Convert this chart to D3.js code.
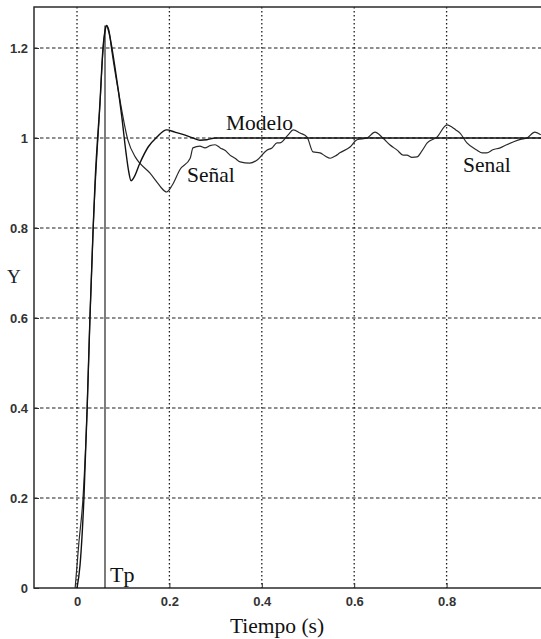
<!DOCTYPE html>
<html lang="es">
<meta charset="utf-8">
<title>Respuesta al escalon</title>
<style>
    body { margin: 0; background: white; }
</style>

<svg id="canvas"></svg>

<script src="https://cdn.jsdelivr.net/npm/d3@7"></script>

<body>
    <script>

        ////////////////////// Data ///////////////////////
        var modelo_t = [0, 0.0065, 0.015, 0.022, 0.028, 0.035, 0.039, 0.050, 0.056, 0.061, 0.064,
                        0.069, 0.082, 0.097, 0.106, 0.112, 0.117, 0.123, 0.136, 0.154, 0.173, 0.194,
                        0.212, 0.229, 0.251, 0.266, 0.281, 0.299, 1.01];
        var modelo_y = [0, 0.05, 0.2, 0.4, 0.6, 0.8, 0.9, 1.084, 1.196, 1.24, 1.25,
                        1.235, 1.158, 1.047, 0.968, 0.925, 0.905, 0.912, 0.944, 0.98, 1.002, 1.018,
                        1.013, 1.008, 1.0, 0.995, 0.996, 1.0, 1.0];

        var senal_t  = [-0.004, 0.004, 0.013, 0.022, 0.028, 0.035, 0.050, 0.056, 0.064, 0.069,
                        0.075, 0.093, 0.110, 0.126, 0.136, 0.158, 0.173, 0.182, 0.194, 0.206,
                        0.223, 0.245, 0.251, 0.266, 0.277, 0.288, 0.299, 0.310, 0.321, 0.331,
                        0.342, 0.353, 0.374, 0.390, 0.411, 0.422, 0.433, 0.439, 0.457, 0.468,
                        0.483, 0.498, 0.511, 0.526, 0.537, 0.548, 0.559, 0.569, 0.591, 0.606,
                        0.628, 0.645, 0.662, 0.677, 0.693, 0.706, 0.714, 0.725, 0.736, 0.747,
                        0.758, 0.779, 0.801, 0.812, 0.820, 0.829, 0.844, 0.866, 0.877, 0.887,
                        0.900, 0.916, 0.930, 0.944, 0.960, 0.974, 0.991, 1.004];
        var senal_y  = [0, 0.1, 0.2, 0.4, 0.6, 0.8, 1.08, 1.19, 1.25, 1.24,
                        1.196, 1.084, 0.996, 0.958, 0.944, 0.922, 0.902, 0.89, 0.88, 0.895,
                        0.93, 0.955, 0.978, 0.982, 0.978, 0.983, 0.985, 0.978, 0.972, 0.962,
                        0.955, 0.947, 0.944, 0.951, 0.973, 0.978, 0.989, 0.989, 1.007, 1.018,
                        1.011, 1.002, 0.969, 0.967, 0.960, 0.955, 0.960, 0.967, 0.98, 0.996,
                        1.0, 1.013, 1.0, 0.985, 0.973, 0.962, 0.962, 0.957, 0.958, 0.972,
                        0.989, 1.002, 1.029, 1.024, 1.018, 1.011, 0.989, 0.973, 0.967, 0.967,
                        0.974, 0.978, 0.985, 0.991, 0.997, 1.0, 1.013, 1.007];

        var tp_t     = 0.0606;
        var tp_y     = 1.25;

        var x_ticks  = [0, 0.2, 0.4, 0.6, 0.8];
        var y_ticks  = [0, 0.2, 0.4, 0.6, 0.8, 1, 1.2];
        ///////////////////////////////////////////////////

        ///////// Position and Dimension Variables ////////
        var dimensions   = [541, 639];
        var plot_left    = 34;
        var plot_top     = 7;
        var plot_bottom  = 588;
        var x0_pos       = 77;     // pixel of t = 0
        var px_per_sec   = 462;
        var px_per_unit  = 450;
        ///////////////////////////////////////////////////

        ///////////////// Style Variables /////////////////
        var axis_color   = '#2b2b2b';
        var grid_color   = '#1e1e1e';
        var tick_color   = '#333';
        var serif_font   = '"Liberation Serif", "Times New Roman", serif';
        var sans_font    = '"Liberation Sans", Arial, sans-serif';
        ///////////////////////////////////////////////////

        var x = d3.scaleLinear()
            .domain([(plot_left - x0_pos) / px_per_sec, (dimensions[0] + 4 - x0_pos) / px_per_sec])
            .range([plot_left, dimensions[0] + 4]);
        var y = d3.scaleLinear()
            .domain([0, (plot_bottom - plot_top) / px_per_unit])
            .range([plot_bottom, plot_top]);

        //////////////////// BG layer /////////////////////
        var canvas = d3.select("#canvas")
            .attr('width',  dimensions[0])
            .attr('height', dimensions[1])
            .style('display', 'block')
            .style('background-color', 'white');
        ///////////////////////////////////////////////////

        ////////////////////// grid ///////////////////////
        canvas.append("g").selectAll("line").data(y_ticks.filter(d => d > 0))
            .join("line")
                .attr('x1', plot_left).attr('x2', dimensions[0])
                .attr('y1', d => y(d)).attr('y2', d => y(d))
                .attr('stroke', grid_color)
                .attr('stroke-width', 1.2)
                .attr('stroke-dasharray', '3.5,2.5');
        canvas.append("g").selectAll("line").data(x_ticks)
            .join("line")
                .attr('x1', d => x(d)).attr('x2', d => x(d))
                .attr('y1', plot_top).attr('y2', plot_bottom)
                .attr('stroke', grid_color)
                .attr('stroke-width', 1.3)
                .attr('stroke-dasharray', '1.6,2.4');
        ///////////////////////////////////////////////////

        ////////////////////// axes ///////////////////////
        var x_axis = canvas.append("g")
            .attr('transform', 'translate(0,' + plot_bottom + ')')
            .call(d3.axisBottom(x).tickValues(x_ticks).tickSize(-5).tickPadding(9)
                  .tickFormat(d3.format('~g')));
        var y_axis = canvas.append("g")
            .attr('transform', 'translate(' + plot_left + ',0)')
            .call(d3.axisLeft(y).tickValues(y_ticks).tickSize(-5).tickPadding(6)
                  .tickFormat(d3.format('~g')));
        [x_axis, y_axis].forEach(function (a) {
            a.select(".domain").remove();
            a.selectAll(".tick line").attr('stroke', axis_color);
            a.selectAll(".tick text")
                .attr('fill', tick_color)
                .attr('font-family', sans_font)
                .attr('font-weight', 'bold')
                .attr('font-size', 13);
        });

        // frame: left, top and bottom (right edge is cut off)
        canvas.append("path")
            .attr('d', 'M' + dimensions[0] + ',' + plot_top + 'H' + plot_left +
                       'V' + plot_bottom + 'H' + dimensions[0])
            .attr('fill', 'none')
            .attr('stroke', axis_color)
            .attr('stroke-width', 1.5);
        ///////////////////////////////////////////////////

        ///////////////////// curves //////////////////////
        var line = d3.line()
            .x(d => x(d[0]))
            .y(d => y(d[1]))
            .curve(d3.curveMonotoneX);

        canvas.append("path")
            .datum(d3.zip(senal_t, senal_y))
            .attr('d', line)
            .attr('fill', 'none')
            .attr('stroke', '#2a2a2a')
            .attr('stroke-width', 1.2);

        canvas.append("path")
            .datum(d3.zip(modelo_t, modelo_y))
            .attr('d', line)
            .attr('fill', 'none')
            .attr('stroke', '#111')
            .attr('stroke-width', 1.4);

        // Tp marker
        canvas.append("line")
            .attr('x1', x(tp_t)).attr('x2', x(tp_t))
            .attr('y1', y(0)).attr('y2', y(tp_y))
            .attr('stroke', '#111')
            .attr('stroke-width', 1.1);
        ///////////////////////////////////////////////////

        ///////////////////// labels //////////////////////
        function label(txt, px, py, size) {
            return canvas.append("text")
                .attr('x', px)
                .attr('y', py)
                .text(txt)
                .attr('fill', '#111')
                .attr('font-family', serif_font)
                .attr('font-size', size);
        }
        label("Modelo", 226, 130, 21.5);
        label("Señal", 187, 182, 21.5);
        label("Senal", 463, 172, 21.5);
        label("Tp", 110, 582, 22);
        label("Tiempo (s)", 277, 633, 21.5).attr('text-anchor', 'middle');
        label("Y", 7, 283, 19).attr('fill', '#1a2433');
        ///////////////////////////////////////////////////

    </script>
</body>
</html>
